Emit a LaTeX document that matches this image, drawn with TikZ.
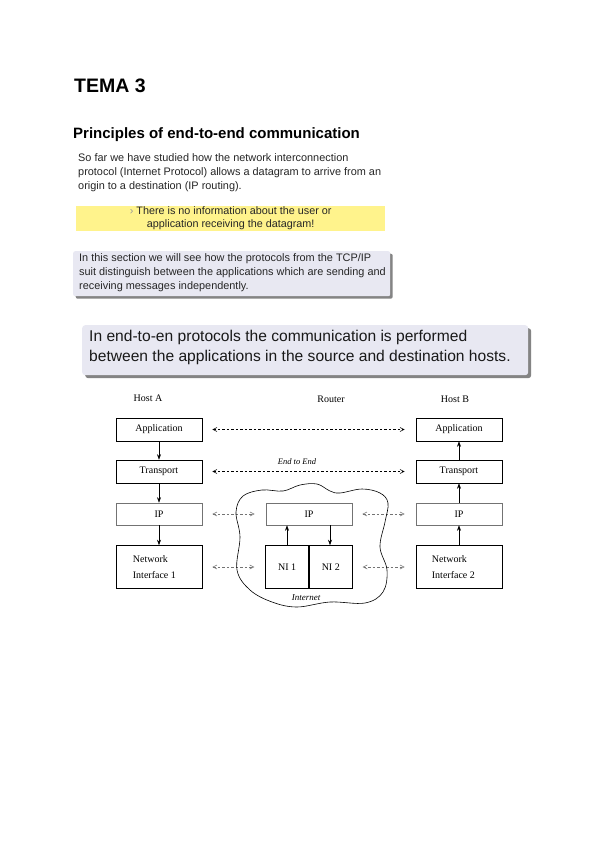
\documentclass[tikz,border=0pt]{standalone}
\usepackage{fontspec}
\setmainfont{Liberation Serif}
\newfontfamily\arialf{Liberation Sans}
\usetikzlibrary{arrows.meta,shadows}
\definecolor{yel}{RGB}{255,243,140}
\definecolor{lav}{RGB}{232,232,242}
\begin{document}
\begin{tikzpicture}[x=1pt,y=-1pt,
  box/.style={draw, line width=0.6pt, minimum width=86pt, minimum height=23pt, inner sep=0pt, font=\fontsize{10}{12}\selectfont},
  ipbox/.style={draw=black!55, line width=0.6pt, minimum width=86pt, minimum height=22pt, inner sep=0pt, font=\fontsize{10}{12}\selectfont},
  niface/.style={draw, line width=0.6pt, minimum width=86pt, minimum height=43pt, inner sep=0pt},
  nitext/.style={anchor=west, align=left, inner sep=0pt, font=\fontsize{10}{16}\selectfont},
  solidarr/.style={-{Stealth[length=5.5pt,width=4pt]}, line width=0.6pt},
  dasharr/.style={{Straight Barb[length=4pt,width=4pt]}-{Straight Barb[length=4pt,width=4pt]}, dashed, dash pattern=on 2.5pt off 2pt, line width=0.6pt},
  graydash/.style={dasharr, draw=black!55},
  lbl/.style={font=\fontsize{10}{12}\selectfont, inner sep=0pt},
  para/.style={anchor=north west, align=left, inner sep=0pt, text=black!85, font=\arialf\fontsize{10.9}{14.4}\selectfont}
]
\useasboundingbox[fill=white] (0,0) rectangle (600,848);

\node[anchor=base west, inner sep=0pt, font=\arialf\bfseries\fontsize{19.5}{24}\selectfont] (tema) at (74,93) {TEMA 3};
\node[anchor=base west, inner sep=0pt, font=\arialf\bfseries\fontsize{15}{16}\selectfont] (princ) at (73,139) {Principles of end-to-end communication};

\node[para] (p1) at (78,153) {So far we have studied how the network interconnection\\protocol (Internet Protocol) allows a datagram to arrive from an\\origin to a destination (IP routing).};

\node[fill=yel, minimum width=309pt, minimum height=25pt, inner sep=0pt, anchor=north west] (yb) at (76,206) {};
\node[align=center, inner sep=0pt, text=black!85, font=\arialf\fontsize{10.8}{13}\selectfont] (ybt) at (yb.center) {{\color{black!40}›} There is no information about the user or\\application receiving the datagram!};

\node[fill=lav, minimum width=317pt, minimum height=45pt, inner sep=0pt, anchor=north west, rounded corners=2pt,
  drop shadow={shadow xshift=2.5pt, shadow yshift=-2.5pt, fill=black!60, opacity=0.8}] (gb) at (73,251) {};
\node[para] (p2) at (79,253) {In this section we will see how the protocols from the TCP/IP\\suit distinguish between the applications which are sending and\\receiving messages independently.};

\node[fill=lav, minimum width=446pt, minimum height=50pt, inner sep=0pt, anchor=north west, rounded corners=3pt,
  drop shadow={shadow xshift=3pt, shadow yshift=-3pt, fill=black!60, opacity=0.8}] (bb) at (82,325) {};
\node[anchor=north west, align=left, inner sep=0pt, text=black!90, font=\arialf\fontsize{15.6}{20}\selectfont] (p3) at (89,330) {In end-to-en protocols the communication is performed\\between the applications in the source and destination hosts.};

% labels
\node[lbl] (hosta) at (148,398) {Host A};
\node[lbl] (router) at (331,399) {Router};
\node[lbl] (hostb) at (455,399) {Host B};

% Host A
\node[box] (appA) at (159,429.5) {Application};
\node[box] (trA) at (159,471.5) {Transport};
\node[ipbox] (ipA) at (159,514) {IP};
\node[niface] (niA) at (159,567) {};
\node[nitext] (niAt) at ([xshift=17pt]niA.west) {Network\\Interface 1};
% Host B
\node[box] (appB) at (459,429.5) {Application};
\node[box] (trB) at (459,471.5) {Transport};
\node[ipbox] (ipB) at (459,514) {IP};
\node[niface] (niB) at (459,567) {};
\node[nitext] (niBt) at ([xshift=16pt]niB.west) {Network\\Interface 2};
% Router
\node[ipbox] (ipR) at (309,514) {IP};
\node[draw, line width=0.6pt, minimum width=43pt, minimum height=43pt, inner sep=0pt, anchor=east, font=\fontsize{10}{12}\selectfont] (ni1) at (309,567) {NI 1};
\node[draw, line width=0.6pt, minimum width=43pt, minimum height=43pt, inner sep=0pt, anchor=west, font=\fontsize{10}{12}\selectfont] (ni2) at (309,567) {NI 2};

% vertical arrows
\draw[solidarr] (appA) -- (trA);
\draw[solidarr] (trA) -- (ipA);
\draw[solidarr] (ipA) -- (niA);
\draw[solidarr] (niB) -- (ipB);
\draw[solidarr] (ipB) -- (trB);
\draw[solidarr] (trB) -- (appB);
\draw[solidarr] (ni1.north -| 287,0) -- (ipR.south -| 287,0);
\draw[solidarr] (ipR.south -| 330,0) -- (ni2.north -| 330,0);

% horizontal dashed
\draw[dasharr] ([xshift=10pt]appA.east) -- ([xshift=-11pt]appB.west);
\draw[dasharr] ([xshift=10pt]trA.east) -- ([xshift=-11pt]trB.west);
\node[font=\itshape\fontsize{8.5}{10}\selectfont, inner sep=0pt] (e2e) at (297,462) {End to End};
\draw[graydash] ([xshift=10pt]ipA.east) -- ([xshift=-11pt]ipR.west);
\draw[graydash] ([xshift=10pt]ipR.east) -- ([xshift=-11pt]ipB.west);
\draw[graydash] ([xshift=10pt]niA.east) -- ([xshift=-11pt]ni1.west);
\draw[graydash] ([xshift=10pt]ni2.east) -- ([xshift=-11pt]niB.west);

% cloud
\draw[line width=0.6pt] plot[smooth cycle, tension=0.6] coordinates {
 (243,496) (262,490) (283,491) (300,485) (317,484) (330,491) (340,493) (362,489) (380,493) (388,503)
 (385,522) (380,547) (387,570) (383,592) (365,603) (330,602) (297,607) (272,602) (250,590)
 (237,570) (240,537) (236,512)};
\node[font=\itshape\fontsize{9}{10}\selectfont, inner sep=0pt] (inet) at (306,598) {Internet};
\end{tikzpicture}
\end{document}
